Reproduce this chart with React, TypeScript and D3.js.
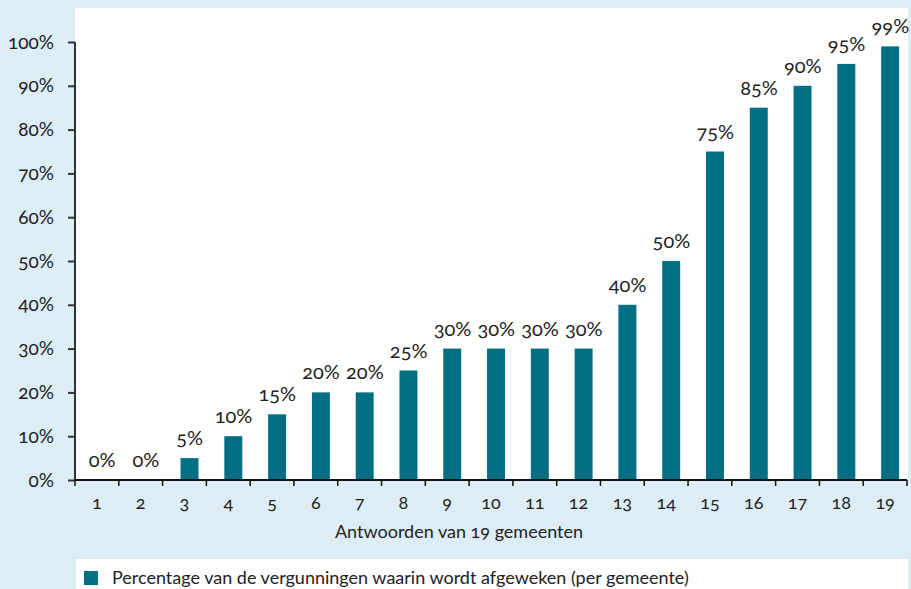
import React, { useEffect, useRef } from 'react';
import * as d3 from 'd3';

const categories = ['1', '2', '3', '4', '5', '6', '7', '8', '9', '10', '11', '12', '13', '14', '15', '16', '17', '18', '19'];
const percentages = [0, 0, 5, 10, 15, 20, 20, 25, 30, 30, 30, 30, 40, 50, 75, 85, 90, 95, 99];
const yTicks = [0, 10, 20, 30, 40, 50, 60, 70, 80, 90, 100];
const xTitle = 'Antwoorden van 19 gemeenten';
const legendLabel = 'Percentage van de vergunningen waarin wordt afgeweken (per gemeente)';

const BAR = '#006f84';
const BG = '#dcedf5';
const INK = '#222';
const FONT = 'Lato, "Open Sans", sans-serif';

export default function App() {
  const ref = useRef<SVGSVGElement>(null);

  useEffect(() => {
    const svg = d3.select(ref.current);
    svg.selectAll('*').remove();

    const width = 911;
    const height = 589;
    const margin = { left: 75, right: 4, top: 42, bottom: 109 };
    const innerWidth = width - margin.left - margin.right;
    const innerHeight = height - margin.top - margin.bottom;

    svg.append('rect').attr('width', width).attr('height', height).attr('fill', BG);
    // white plot area, a bit taller than the 100% line
    svg.append('rect')
      .attr('x', margin.left).attr('y', 8)
      .attr('width', innerWidth + 1).attr('height', margin.top + innerHeight - 8)
      .attr('fill', '#fff');

    const xScale = d3.scaleBand().domain(categories).range([0, innerWidth]);
    const yScale = d3.scaleLinear().domain([0, 100]).range([innerHeight, 0]);

    const g = svg.append('g').attr('transform', `translate(${margin.left},${margin.top})`)
      .style('font-family', FONT);

    const bw = xScale.bandwidth();

    g.selectAll('.bar')
      .data(percentages)
      .enter()
      .append('rect')
        .attr('class', 'bar')
        .attr('x', (d, i) => xScale(categories[i])! + bw * 0.41)
        .attr('y', d => yScale(d))
        .attr('width', bw * 0.41)
        .attr('height', d => innerHeight - yScale(d))
        .attr('fill', BAR);

    g.selectAll('.val')
      .data(percentages)
      .enter()
      .append('text')
        .attr('class', 'val')
        .attr('x', (d, i) => xScale(categories[i])! + bw * 0.62)
        .attr('y', d => yScale(d) - 13)
        .attr('text-anchor', 'middle')
        .attr('fill', INK)
        .style('font-size', '20px')
        .style('font-feature-settings', '"onum"')
        .text(d => `${d}%`);

    // y axis
    const yAxis = g.append('g')
      .call(d3.axisLeft(yScale).tickValues(yTicks).tickSize(7).tickPadding(14).tickFormat(d => `${d}%`));
    yAxis.select('.domain').attr('stroke', '#333').attr('stroke-width', 2).attr('d', `M0,${innerHeight}V${yScale(100)}`);
    yAxis.selectAll('.tick line').attr('stroke', '#333').attr('stroke-width', 2);
    yAxis.selectAll('.tick text')
      .attr('fill', INK).style('font-size', '19px').style('font-family', FONT)
      .style('font-feature-settings', '"onum"');

    // x axis with ticks on band boundaries
    const xAxis = g.append('g').attr('transform', `translate(0,${innerHeight})`);
    xAxis.append('line').attr('x1', 0).attr('x2', innerWidth).attr('stroke', '#111').attr('stroke-width', 2);
    xAxis.selectAll('.bt')
      .data(d3.range(categories.length + 1))
      .enter()
      .append('line')
        .attr('x1', i => i * bw).attr('x2', i => i * bw)
        .attr('y1', 0).attr('y2', 6)
        .attr('stroke', '#111').attr('stroke-width', 1.5);
    xAxis.selectAll('.xl')
      .data(categories)
      .enter()
      .append('text')
        .attr('x', d => xScale(d)! + bw / 2)
        .attr('y', 29)
        .attr('text-anchor', 'middle')
        .attr('fill', INK)
        .style('font-size', '18px')
        .style('font-feature-settings', '"onum"')
        .text(d => d);

    svg.append('text')
      .attr('x', 459).attr('y', 538)
      .attr('text-anchor', 'middle')
      .attr('fill', INK)
      .style('font-family', FONT)
      .style('font-size', '18px')
      .style('font-feature-settings', '"onum"')
      .text(xTitle);

    // legend
    svg.append('rect').attr('x', 76).attr('y', 559).attr('width', 832).attr('height', 30).attr('fill', '#fff');
    svg.append('rect').attr('x', 84).attr('y', 571).attr('width', 14).attr('height', 14).attr('fill', BAR);
    svg.append('text')
      .attr('x', 112).attr('y', 584)
      .attr('fill', INK)
      .style('font-family', FONT)
      .style('font-size', '18px')
      .text(legendLabel);
  }, []);

  return <svg ref={ref} width={911} height={589} style={{ display: 'block', position: 'absolute', left: 0, top: 0 }} />;
}
